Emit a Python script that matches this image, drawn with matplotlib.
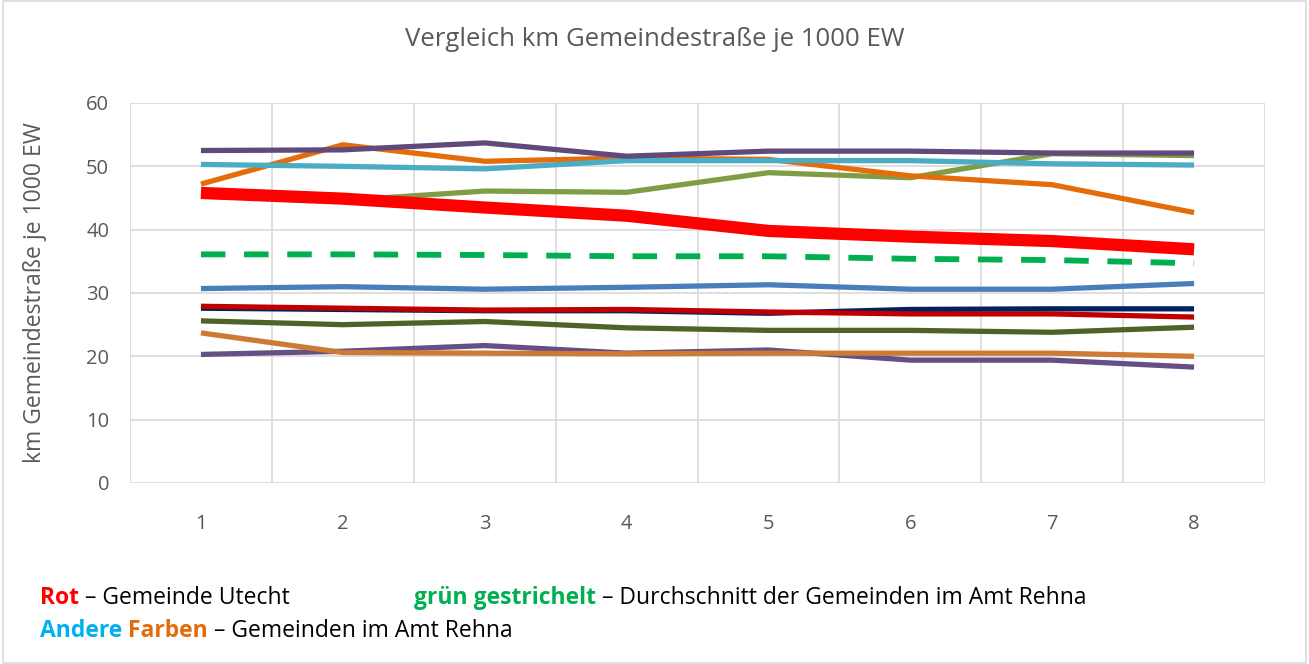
import matplotlib.pyplot as plt
from matplotlib.patches import Rectangle

x = [1, 2, 3, 4, 5, 6, 7, 8]

# Gemeinde Utecht (rot) und Durchschnitt (grün gestrichelt)
utecht = [45.8, 44.9, 43.5, 42.2, 39.8, 38.9, 38.2, 36.9]
durchschnitt = [36.1, 36.1, 36.0, 35.8, 35.8, 35.4, 35.2, 34.7]

# andere Gemeinden im Amt Rehna
purple_top = [52.5, 52.6, 53.7, 51.6, 52.4, 52.4, 52.1, 52.1]
orange = [47.2, 53.4, 50.8, 51.3, 51.1, 48.5, 47.1, 42.7]
light_blue = [50.3, 50.0, 49.6, 50.9, 50.9, 50.9, 50.4, 50.2]
olive = [45.3, 44.6, 46.1, 45.9, 49.0, 48.2, 52.0, 51.7]
blue = [30.7, 31.0, 30.6, 30.9, 31.3, 30.6, 30.6, 31.5]
navy = [27.6, 27.4, 27.2, 27.2, 26.8, 27.4, 27.5, 27.5]
dark_red = [27.9, 27.6, 27.3, 27.4, 27.0, 26.7, 26.7, 26.2]
dark_olive = [25.6, 25.0, 25.5, 24.5, 24.1, 24.1, 23.8, 24.6]
purple_low = [20.3, 20.8, 21.7, 20.5, 21.0, 19.4, 19.4, 18.3]
brown = [23.7, 20.6, 20.5, 20.4, 20.5, 20.5, 20.5, 20.0]

others = [
    (olive, '#7F9D45'),
    (orange, '#E46C0A'),
    (light_blue, '#4BACC6'),
    (purple_top, '#604A7B'),
    (blue, '#4A7EBB'),
    (dark_olive, '#4F6228'),
    (navy, '#002060'),
    (dark_red, '#C00000'),
    (purple_low, '#654F84'),
    (brown, '#CC7A35'),
]

plt.rcParams['font.family'] = ['Open Sans', 'DejaVu Sans']
gray = '#595959'

fig = plt.figure(figsize=(13.09, 6.64), dpi=100)
ax = fig.add_axes([130 / 1309, 1 - 483 / 664, 1135 / 1309, 380 / 664])

for vals, col in others:
    ax.plot(x, vals, color=col, linewidth=3.8, solid_capstyle='butt')

ax.plot(x, durchschnitt, color='#00B050', linewidth=4.2,
        dashes=(4.2, 3.2), dash_capstyle='butt')
ax.plot(x, utecht, color='#FF0000', linewidth=8.8, solid_capstyle='butt')

ax.set_xlim(0.5, 8.5)
ax.set_ylim(0, 60)
ax.set_xticks(x)
ax.set_yticks(range(0, 61, 10))
ax.set_xticks([i + 0.5 for i in range(0, 9)], minor=True)
ax.grid(False)
ax.grid(axis='y', which='major', color='#D9D9D9', linewidth=1.2)
ax.grid(axis='x', which='minor', color='#D9D9D9', linewidth=1.2)
ax.set_axisbelow(True)
for s in ax.spines.values():
    s.set_visible(False)
ax.tick_params(which='both', length=0, labelsize=14.5, labelcolor=gray)
ax.tick_params(axis='x', pad=22)
ax.tick_params(axis='y', pad=15)

fig.text(35 / 1309, 1 - 293 / 664, 'km Gemeindestraße je 1000 EW', rotation=90,
         ha='center', va='center', fontsize=16.5, color=gray)

fig.text(655 / 1309, 1 - 40 / 664, 'Vergleich km Gemeindestraße je 1000 EW',
         ha='center', va='center', fontsize=18.5, color=gray)

# Rahmen
fig.patches.append(Rectangle((0.002, 0.002), 0.996, 0.996, transform=fig.transFigure,
                             fill=False, edgecolor='#D9D9D9', linewidth=1.2))

# Erläuterung unter dem Diagramm
renderer = fig.canvas.get_renderer()


def colored_line(x0, y0, parts):
    xp = x0
    for txt, col, bold in parts:
        t = fig.text(xp / 1309, 1 - y0 / 664, txt, color=col, fontsize=16.5,
                     fontweight='bold' if bold else 'normal', va='center', ha='left')
        bb = t.get_window_extent(renderer=renderer)
        xp += bb.width


colored_line(40, 598, [('Rot', '#FF0000', True), (' – Gemeinde Utecht', 'black', False)])
colored_line(414, 598, [('grün gestrichelt', '#00B050', True),
                        (' – Durchschnitt der Gemeinden im Amt Rehna', 'black', False)])
colored_line(40, 631, [('Andere ', '#00B0F0', True), ('Farben', '#E46C0A', True),
                       (' – Gemeinden im Amt Rehna', 'black', False)])

fig.savefig('out.png', dpi=100)
